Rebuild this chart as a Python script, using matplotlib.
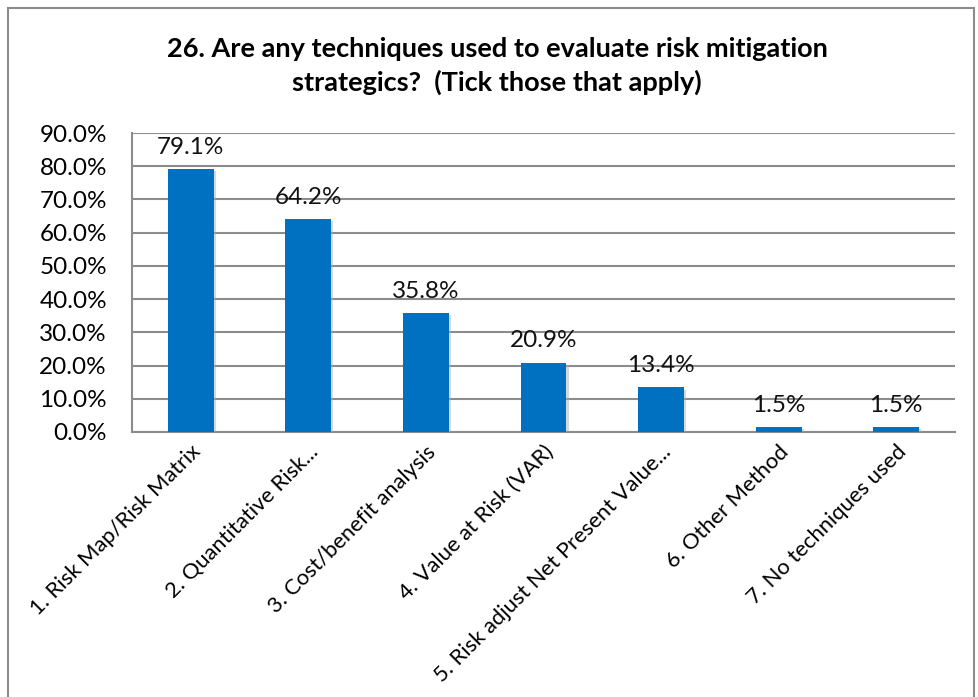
import matplotlib.pyplot as plt
import matplotlib.patheffects as pe
from matplotlib.patches import Rectangle

categories = [
    "1. Risk Map/Risk Matrix",
    "2. Quantitative Risk...",
    "3. Cost/benefit analysis",
    "4. Value at Risk (VAR)",
    "5. Risk adjust Net Present Value...",
    "6. Other Method",
    "7. No techniques used",
]
values = [79.1, 64.2, 35.8, 20.9, 13.4, 1.5, 1.5]
yticks = [0, 10, 20, 30, 40, 50, 60, 70, 80, 90]

plt.rcParams['font.family'] = ['Lato', 'DejaVu Sans']

fig = plt.figure(figsize=(9.79, 6.97), dpi=100)
W, H = 979, 697
ax = fig.add_axes([132 / W, 1 - 432 / H, (955 - 132) / W, (432 - 133) / H])

# outer chart frame
fig.patches.append(Rectangle((8 / W, -0.05), (974 - 8) / W, 1.05 - 8 / H,
                             transform=fig.transFigure, fill=False,
                             edgecolor='#8c8c8c', linewidth=1.5))

x = range(len(categories))
bars = ax.bar(x, values, width=0.39, color='#0070C0', zorder=3)
for b in bars:
    b.set_path_effects([pe.SimplePatchShadow(offset=(1.5, -1.5), shadow_rgbFace='#aaaaaa', alpha=0.45),
                        pe.Normal()])

for xi, v in zip(x, values):
    ax.annotate(f"{v:.1f}%", (xi, v), xytext=(0, 8), textcoords='offset points',
                ha='center', va='bottom', fontsize=17.5, color='#111111')

ax.set_xlim(-0.5, len(categories) - 0.5)
ax.set_ylim(0, 90)
ax.set_yticks(yticks)
ax.set_yticklabels([f"{t:.1f}%" for t in yticks], fontsize=17.5)
ax.yaxis.grid(True, color='#8c8c8c', linewidth=1.5, zorder=0)
ax.set_axisbelow(True)
ax.tick_params(axis='y', length=0, pad=18)
ax.tick_params(axis='x', length=0, pad=7)
ax.set_xticks(list(x))
ax.set_xticklabels(categories, rotation=45, ha='right', rotation_mode='anchor',
                   fontsize=15.8)

for s in ['top', 'right']:
    ax.spines[s].set_visible(False)
for s in ['left', 'bottom']:
    ax.spines[s].set_color('#8c8c8c')
    ax.spines[s].set_linewidth(1.5)

fig.text(497 / W, 1 - 66 / H,
         "26. Are any techniques used to evaluate risk mitigation\nstrategics?  (Tick those that apply)",
         ha='center', va='center', fontsize=19.5, fontweight='bold', linespacing=1.45)

fig.savefig('out.png', dpi=100)
